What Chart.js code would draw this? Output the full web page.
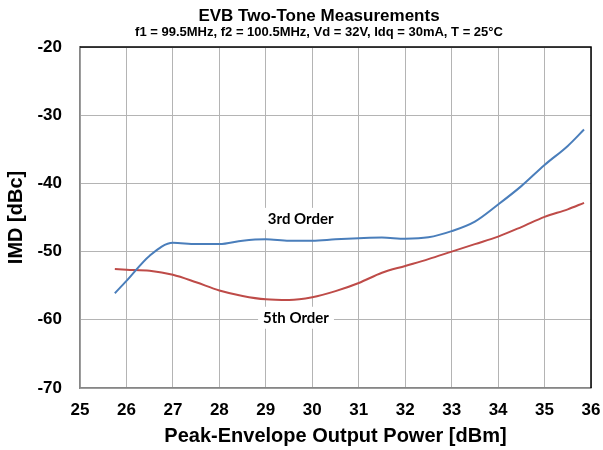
<!DOCTYPE html>
<html>
<head>
<meta charset="utf-8">
<script src="https://cdn.jsdelivr.net/npm/chart.js@4"></script>
<style>
  html, body { margin: 0; padding: 0; background: #fff; }
  #grafico { display: block; }
</style>
</head>
<body>
<canvas id="grafico" width="603" height="450"></canvas>
<script>
// potencia de saida (dBm)
const potencia = [25.75, 26, 26.5, 27, 27.5, 28, 28.5, 29, 29.5, 30, 30.5, 31, 31.5, 32, 32.5, 33, 33.5, 34, 34.5, 35, 35.5, 35.85];
const imd3 = [-56.1, -54.3, -50.6, -48.7, -48.9, -48.9, -48.4, -48.2, -48.4, -48.4, -48.2, -48.05, -47.95, -48.1, -47.9, -47.0, -45.6, -43.1, -40.4, -37.3, -34.5, -32.1];
const imd5 = [-52.55, -52.65, -52.8, -53.4, -54.5, -55.7, -56.5, -57.0, -57.1, -56.7, -55.8, -54.6, -53.1, -52.1, -51.1, -50.0, -48.9, -47.8, -46.4, -44.9, -43.8, -42.85];

const rotulos = ['3rd Order', '5th Order'];
const rotuloX = [29.75, 29.65];
const rotuloY = [-45.2, -59.7];

const titulo = 'EVB Two-Tone Measurements';
const subtitulo = 'f1 = 99.5MHz, f2 = 100.5MHz, Vd = 32V, Idq = 30mA, T = 25°C';

const fonteEixo = 'Liberation Sans, Arial, sans-serif';

const pontos = (ys) => potencia.map((x, i) => ({ x, y: ys[i] }));

// titulos, moldura preta em cima e a direita + rotulos das curvas
const extras = {
  id: 'extras',
  beforeDatasetsDraw(chart) {
    const { ctx, scales } = chart;
    ctx.save();
    ctx.font = 'bold 15px Lato, "Open Sans", sans-serif';
    ctx.textAlign = 'center';
    ctx.textBaseline = 'middle';
    rotulos.forEach((t, i) => {
      const x = scales.x.getPixelForValue(rotuloX[i]);
      const y = scales.y.getPixelForValue(rotuloY[i]);
      const w = ctx.measureText(t).width;
      ctx.fillStyle = '#fff';
      ctx.fillRect(x - w / 2 - 5, y - 11, w + 10, 22);
      ctx.fillStyle = '#000';
      ctx.fillText(t, x, y);
    });
    ctx.restore();
  },
  afterDraw(chart) {
    const { ctx, chartArea: a } = chart;
    ctx.save();
    ctx.strokeStyle = '#000';
    ctx.lineWidth = 1.5;
    ctx.beginPath();
    ctx.moveTo(a.left, a.top);
    ctx.lineTo(a.right, a.top);
    ctx.lineTo(a.right, a.bottom);
    ctx.stroke();

    ctx.fillStyle = '#000';
    ctx.textAlign = 'center';
    ctx.textBaseline = 'middle';
    ctx.font = 'bold 17px ' + fonteEixo;
    ctx.fillText(titulo, 319, 16);
    ctx.font = 'bold 13px ' + fonteEixo;
    ctx.fillText(subtitulo, 319, 32.5);
    ctx.restore();
  }
};

const grafico = new Chart(document.getElementById('grafico').getContext('2d'), {
  type: 'line',
  data: {
    datasets: [
      { label: '3rd Order', data: pontos(imd3), borderColor: '#4a7ebb', borderWidth: 2, pointRadius: 0, cubicInterpolationMode: 'monotone' },
      { label: '5th Order', data: pontos(imd5), borderColor: '#be4b48', borderWidth: 2, pointRadius: 0, cubicInterpolationMode: 'monotone' }
    ]
  },
  options: {
    responsive: false,
    animation: false,
    layout: { padding: { left: 0, right: 0, top: 47, bottom: 0 } },
    plugins: {
      legend: { display: false },
      tooltip: { enabled: false }
    },
    scales: {
      x: {
        type: 'linear',
        min: 25,
        max: 36,
        afterFit: (s) => { s.height = 62; s.paddingRight = 12; s.paddingLeft = 0; },
        ticks: { stepSize: 1, padding: 12, color: '#000', font: { family: fonteEixo, size: 17, weight: 'bold' } },
        grid: { color: '#b4b4b4', drawTicks: false },
        border: { color: '#868686', width: 1.5 },
        title: {
          display: true,
          text: 'Peak-Envelope Output Power [dBm]',
          color: '#000',
          font: { family: fonteEixo, size: 20, weight: 'bold' },
          padding: { top: 0, bottom: 2 }
        }
      },
      y: {
        min: -70,
        max: -20,
        afterFit: (s) => { s.width = 80; },
        ticks: { stepSize: 10, padding: 18, color: '#000', font: { family: fonteEixo, size: 17, weight: 'bold' } },
        grid: { color: '#b4b4b4', drawTicks: false },
        border: { color: '#868686', width: 1.5 },
        title: {
          display: true,
          text: 'IMD [dBc]',
          color: '#000',
          font: { family: fonteEixo, size: 20, weight: 'bold' },
          padding: { top: 4, bottom: 0 }
        }
      }
    }
  },
  plugins: [extras]
});
</script>
</body>
</html>
